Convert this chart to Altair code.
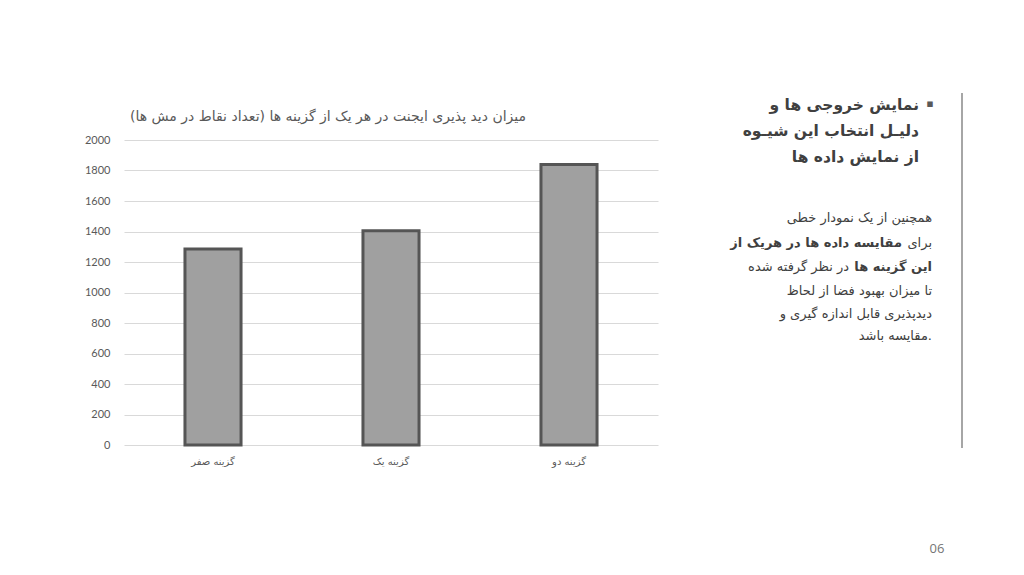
import altair as alt
import pandas as pd

categories = ["گزینه صفر", "گزینه یک", "گزینه دو"]
values = [1285, 1405, 1840]
y_ticks = [0, 200, 400, 600, 800, 1000, 1200, 1400, 1600, 1800, 2000]

chart_title = "میزان دید پذیری ایجنت در هر یک از گزینه ها (تعداد نقاط در مش ها)"
heading_lines = ["نمایش خروجی ها و", "دلیـل انتخاب این شیـوه", "از نمایش داده ها"]
para_lines = [
    ("", "همچنین از یک نمودار خطی"),
    ("مقایسه داده ها در هریک از", "برای"),
    ("این گزینه ها", "در نظر گرفته شده"),
    ("", "تا میزان بهبود فضا از لحاظ"),
    ("", "دیدپذیری قابل اندازه گیری و"),
    ("", "مقایسه باشد."),
]
page_number = "06"

df = pd.DataFrame({"cat": categories, "val": values})
one = pd.DataFrame({"k": [0]})

W, H = 534, 305
AR = "DejaVu Sans"

bars = alt.Chart(df).mark_bar(color="#a0a0a0", stroke="#555555", strokeWidth=3).encode(
    x=alt.X("cat:N", sort=categories,
            scale=alt.Scale(paddingInner=0.685, paddingOuter=0.3425),
            axis=alt.Axis(title=None, labelAngle=0, domain=False, ticks=False,
                          labelFont=AR, labelFontSize=10, labelColor="#595959",
                          labelPadding=11)),
    y=alt.Y("val:Q", scale=alt.Scale(domain=[0, 2000], nice=False),
            axis=alt.Axis(title=None, values=y_ticks, format="d", domain=False, ticks=False,
                          labelFont="Lato", labelFontSize=11, labelColor="#595959",
                          labelPadding=14, gridColor="#d9d9d9", gridWidth=1)),
)

def txt(s, x, y, size, color="#404040", bold=False, align="center", font=AR):
    return alt.Chart(one).mark_text(
        align=align, baseline="middle", fontSize=size, color=color,
        fontWeight="bold" if bold else "normal", font=font,
    ).encode(x=alt.value(x), y=alt.value(y), text=alt.value(s))

L, T = 124, 140
layers = [bars]
layers.append(txt(chart_title, 328 - L, 117 - T, 14, color="#595959"))

# heading
layers.append(txt("▪", 930 - L, 104 - T, 11, color="#595959", font="DejaVu Sans"))
for i, s in enumerate(heading_lines):
    layers.append(txt(s, 919 - L, 105 + 26 * i - T, 15.5, bold=True, align="right"))

# paragraph
py = [218, 243, 267, 291, 314, 336]
for i, (b, n) in enumerate(para_lines):
    y = py[i] - T
    if i == 1:
        layers.append(txt(n, 932 - L, y, 13, align="right"))
        layers.append(txt(b, 902 - L, y, 13, bold=True, align="right"))
    elif i == 2:
        layers.append(txt(b, 932 - L, y, 13, bold=True, align="right"))
        layers.append(txt(n, 849 - L, y, 13, align="right"))
    else:
        layers.append(txt(n, 932 - L, y, 13, align="right"))

layers.append(alt.Chart(one).mark_rule(color="#a6a6a6", strokeWidth=2).encode(
    x=alt.value(962 - L), y=alt.value(93 - T), y2=alt.value(448 - T)))

layers.append(txt(page_number, 937 - L, 549 - T, 13, color="#757575", font="Open Sans"))

chart = alt.layer(*layers).properties(
    width=W, height=H,
    autosize=alt.AutoSizeParams(type="none"),
    padding={"left": L - 8, "top": T - 8, "right": 1008 - (L - 8) - W, "bottom": 559 - (T - 8) - H},
    background="white",
).configure_view(stroke=None)

chart.save("out.html", embed_options={"renderer": "svg", "actions": False})
